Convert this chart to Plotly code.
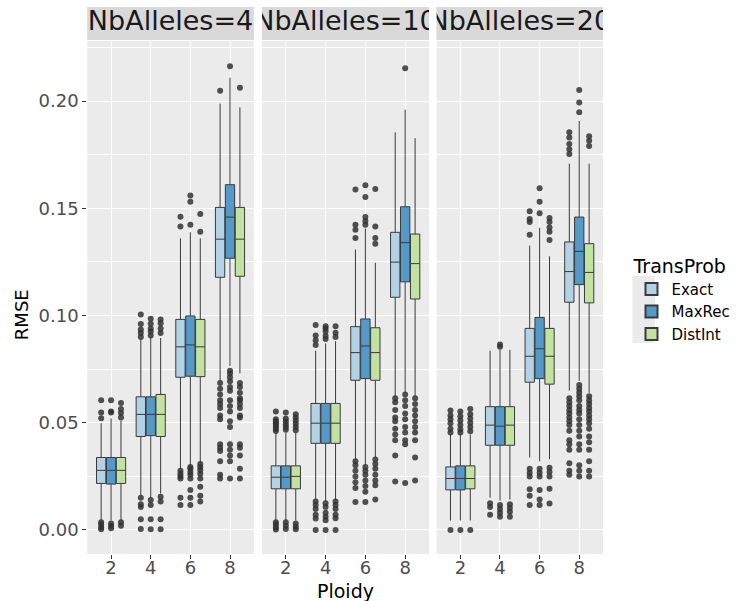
import plotly.graph_objects as go

# ---------------- data ----------------
PLOIDY = ["2", "4", "6", "8"]
NB_ALLELES = ["NbAlleles=4", "NbAlleles=10", "NbAlleles=20"]
SERIES = ["Exact", "MaxRec", "DistInt"]

# box statistics per panel (NbAlleles 4, 10, 20), each list over ploidy 2,4,6,8
EXACT_LOW = [[0.0044, 0.0160, 0.0285, 0.0694], [0.0044, 0.0142, 0.0329, 0.0623], [0.0044, 0.0151, 0.0338, 0.0650]]
EXACT_Q1 = [[0.0217, 0.0436, 0.0712, 0.1178], [0.0192, 0.0404, 0.0698, 0.1085], [0.0187, 0.0395, 0.0689, 0.1062]]
EXACT_MED = [[0.0278, 0.0539, 0.0854, 0.1356], [0.0246, 0.0498, 0.0827, 0.1249], [0.0240, 0.0489, 0.0810, 0.1205]]
EXACT_Q3 = [[0.0338, 0.0621, 0.0982, 0.1504], [0.0299, 0.0590, 0.0948, 0.1388], [0.0294, 0.0575, 0.0940, 0.1343]]
EXACT_HIGH = [[0.0498, 0.0890, 0.1360, 0.1988], [0.0454, 0.0836, 0.1308, 0.1854], [0.0445, 0.0836, 0.1326, 0.1708]]

MAXREC_LOW = [[0.0044, 0.0150, 0.0300, 0.0765], [0.0044, 0.0133, 0.0302, 0.0640], [0.0044, 0.0137, 0.0320, 0.0694]]
MAXREC_Q1 = [[0.0214, 0.0440, 0.0717, 0.1267], [0.0192, 0.0404, 0.0706, 0.1157], [0.0187, 0.0395, 0.0706, 0.1144]]
MAXREC_MED = [[0.0278, 0.0539, 0.0863, 0.1459], [0.0246, 0.0498, 0.0858, 0.1340], [0.0240, 0.0484, 0.0845, 0.1299]]
MAXREC_Q3 = [[0.0338, 0.0621, 0.0998, 0.1610], [0.0299, 0.0590, 0.0984, 0.1507], [0.0299, 0.0575, 0.0991, 0.1459]]
MAXREC_HIGH = [[0.0520, 0.0900, 0.1388, 0.2109], [0.0454, 0.0870, 0.1406, 0.1960], [0.0445, 0.0840, 0.1409, 0.1907]]

DISTINT_LOW = [[0.0044, 0.0170, 0.0311, 0.0730], [0.0044, 0.0140, 0.0340, 0.0623], [0.0044, 0.0142, 0.0330, 0.0640]]
DISTINT_Q1 = [[0.0217, 0.0436, 0.0715, 0.1183], [0.0192, 0.0404, 0.0698, 0.1077], [0.0192, 0.0395, 0.0680, 0.1059]]
DISTINT_MED = [[0.0278, 0.0539, 0.0854, 0.1356], [0.0250, 0.0498, 0.0827, 0.1242], [0.0240, 0.0489, 0.0810, 0.1201]]
DISTINT_Q3 = [[0.0338, 0.0632, 0.0982, 0.1504], [0.0299, 0.0590, 0.0943, 0.1380], [0.0299, 0.0575, 0.0940, 0.1335]]
DISTINT_HIGH = [[0.0510, 0.0895, 0.1360, 0.1970], [0.0454, 0.0880, 0.1246, 0.1827], [0.0445, 0.0840, 0.1276, 0.1708]]

# outliers per panel, per ploidy
EXACT_OUT = [
    [[0.0521, 0.0548, 0.0605, 0.0036, 0.0025, 0.0012, 0.0003],
     [0.0900, 0.0918, 0.0935, 0.0960, 0.1005, 0.0150, 0.0120, 0.0107, 0.0050, 0.0005],
     [0.1415, 0.1460, 0.0276, 0.0262, 0.0250, 0.0240, 0.0150, 0.0116],
     [0.2048, 0.0685, 0.0658, 0.0632, 0.0605, 0.0587, 0.0569, 0.0534, 0.0516, 0.0400, 0.0383, 0.0368, 0.0320, 0.0258, 0.0240]],
    [[0.0552, 0.0516, 0.0507, 0.0498, 0.0489, 0.0480, 0.0471, 0.0462, 0.0036, 0.0025, 0.0012, 0.0002],
     [0.0863, 0.0885, 0.0907, 0.0956, 0.0133, 0.0116, 0.0098, 0.0071, 0.0053, 0.0000],
     [0.1587, 0.1423, 0.1400, 0.1361, 0.0320, 0.0302, 0.0276, 0.0249, 0.0222, 0.0196, 0.0130],
     [0.0614, 0.0596, 0.0560, 0.0525, 0.0507, 0.0472, 0.0445, 0.0418, 0.0347, 0.0226]],
    [[0.0557, 0.0534, 0.0516, 0.0498, 0.0472, 0.0454, 0.0000],
     [0.0125, 0.0107, 0.0071],
     [0.1486, 0.1450, 0.1436, 0.1377, 0.0285, 0.0267, 0.0249, 0.0190, 0.0160, 0.0116],
     [0.1854, 0.1830, 0.1800, 0.1775, 0.1753, 0.0614, 0.0596, 0.0578, 0.0560, 0.0543, 0.0525, 0.0507, 0.0489,
      0.0463, 0.0418, 0.0400, 0.0374, 0.0311, 0.0276, 0.0258]],
]
MAXREC_OUT = [
    [[0.0548, 0.0552, 0.0605, 0.0030, 0.0018, 0.0008],
     [0.0907, 0.0925, 0.0940, 0.0962, 0.0985, 0.0140, 0.0116, 0.0050, 0.0003],
     [0.1423, 0.1530, 0.1560, 0.0294, 0.0285, 0.0270, 0.0258, 0.0240, 0.0187, 0.0150, 0.0116],
     [0.2162, 0.0742, 0.0730, 0.0712, 0.0694, 0.0667, 0.0649, 0.0605, 0.0578, 0.0552, 0.0507, 0.0480, 0.0400,
      0.0374, 0.0347, 0.0320, 0.0240]],
    [[0.0548, 0.0520, 0.0507, 0.0493, 0.0480, 0.0467, 0.0036, 0.0020, 0.0005],
     [0.0890, 0.0905, 0.0925, 0.0940, 0.0950, 0.0125, 0.0107, 0.0080, 0.0062, 0.0045, 0.0000],
     [0.1607, 0.1553, 0.1459, 0.1441, 0.1423, 0.0294, 0.0276, 0.0258, 0.0231, 0.0205, 0.0178, 0.0130],
     [0.2153, 0.0632, 0.0605, 0.0578, 0.0543, 0.0516, 0.0480, 0.0454, 0.0418, 0.0400, 0.0219]],
    [[0.0552, 0.0530, 0.0510, 0.0490, 0.0470, 0.0454, 0.0000],
     [0.0854, 0.0865, 0.0116, 0.0098, 0.0080, 0.0062],
     [0.1593, 0.1530, 0.1477, 0.0285, 0.0267, 0.0249, 0.0187, 0.0142, 0.0116],
     [0.2052, 0.1993, 0.1948, 0.0676, 0.0658, 0.0641, 0.0623, 0.0605, 0.0578, 0.0560, 0.0543, 0.0516, 0.0489,
      0.0463, 0.0436, 0.0400, 0.0374, 0.0302, 0.0276, 0.0249]],
]
DISTINT_OUT = [
    [[0.0525, 0.0546, 0.0564, 0.0592, 0.0036, 0.0020],
     [0.0918, 0.0940, 0.0964, 0.0982, 0.0155, 0.0133, 0.0050, 0.0003],
     [0.1390, 0.1473, 0.0308, 0.0294, 0.0280, 0.0262, 0.0240, 0.0202, 0.0160, 0.0133],
     [0.2062, 0.0685, 0.0667, 0.0640, 0.0614, 0.0605, 0.0587, 0.0569, 0.0534, 0.0525, 0.0400, 0.0383, 0.0347,
      0.0285, 0.0240]],
    [[0.0540, 0.0525, 0.0510, 0.0495, 0.0480, 0.0465, 0.0030, 0.0015, 0.0003],
     [0.0900, 0.0920, 0.0950, 0.0133, 0.0116, 0.0098, 0.0071, 0.0055, 0.0000],
     [0.1590, 0.1415, 0.1361, 0.1335, 0.0329, 0.0308, 0.0285, 0.0258, 0.0231, 0.0208, 0.0142],
     [0.0614, 0.0587, 0.0560, 0.0534, 0.0507, 0.0480, 0.0454, 0.0418, 0.0338, 0.0231]],
    [[0.0564, 0.0540, 0.0520, 0.0500, 0.0480, 0.0460, 0.0000],
     [0.0120, 0.0102, 0.0085, 0.0062],
     [0.1455, 0.1436, 0.1410, 0.1390, 0.1352, 0.0290, 0.0270, 0.0249, 0.0192, 0.0124],
     [0.1836, 0.1815, 0.1790, 0.0623, 0.0605, 0.0587, 0.0569, 0.0552, 0.0534, 0.0516, 0.0498, 0.0472, 0.0436,
      0.0409, 0.0374, 0.0320, 0.0276, 0.0249]],
]

COLORS = {"Exact": "#b3d3e4", "MaxRec": "#5499c7", "DistInt": "#c2e2a1"}

STATS = {
    "Exact": (EXACT_LOW, EXACT_Q1, EXACT_MED, EXACT_Q3, EXACT_HIGH, EXACT_OUT),
    "MaxRec": (MAXREC_LOW, MAXREC_Q1, MAXREC_MED, MAXREC_Q3, MAXREC_HIGH, MAXREC_OUT),
    "DistInt": (DISTINT_LOW, DISTINT_Q1, DISTINT_MED, DISTINT_Q3, DISTINT_HIGH, DISTINT_OUT),
}

# ---------------- layout geometry ----------------
W, H = 743, 601
ML, MR, MT, MB = 87, 131, 7, 47
PW = W - ML - MR
PH = H - MT - MB
panel_px = [(87.3, 256.7), (265.0, 435.0), (442.7, 612.0)]


def clamp(v):
    return max(0.0, min(1.0, v))


def px_x(px):
    return (px - ML) / PW


def px_y(px):
    return (H - MB - px) / PH


x_domains = [[clamp(px_x(a)), clamp(px_x(b))] for a, b in panel_px]
panel_dom = [0, px_y(41)]
strip_dom = [px_y(40), 1.0]

DODGE = [-0.25, 0.0, 0.25]
BOXW = 0.235
FONT = "DejaVu Sans"

fig = go.Figure()

pos = [i + 1 for i in range(len(PLOIDY))]

for p in range(3):
    xa = "x" if p == 0 else f"x{p + 1}"
    ya = "y" if p == 0 else f"y{p + 1}"
    for s_i, s in enumerate(SERIES):
        low, q1, med, q3, high, out = STATS[s]
        xs = [v + DODGE[s_i] for v in pos]
        fig.add_trace(go.Box(
            x=xs, q1=q1[p], median=med[p], q3=q3[p],
            lowerfence=low[p], upperfence=high[p],
            width=BOXW, fillcolor=COLORS[s],
            line=dict(color="#3a3a3a", width=1),
            whiskerwidth=0, boxpoints=False,
            name=s, legendgroup=s, showlegend=(p == 0),
            xaxis=xa, yaxis=ya, hoverinfo="skip",
        ))
        ox, oy = [], []
        for k in range(len(PLOIDY)):
            for v in out[p][k]:
                ox.append(xs[k])
                oy.append(v)
        fig.add_trace(go.Scatter(
            x=ox, y=oy, mode="markers",
            marker=dict(size=6, color="#333333", opacity=0.85, line=dict(width=0)),
            showlegend=False, xaxis=xa, yaxis=ya, hoverinfo="skip",
        ))

# strip labels (clipped to the strip area like ggplot)
for p in range(3):
    xa = f"x{p + 4}"
    ya = f"y{p + 4}"
    fig.add_trace(go.Scatter(
        x=[0.5], y=[0.5], mode="text", text=[NB_ALLELES[p]],
        textfont=dict(family=FONT, size=27, color="#1a1a1a"),
        textposition="middle center", cliponaxis=True,
        showlegend=False, xaxis=xa, yaxis=ya, hoverinfo="skip",
    ))

layout = dict(
    width=W, height=H,
    margin=dict(l=ML, r=MR, t=MT, b=MB),
    paper_bgcolor="white", plot_bgcolor="#ebebeb",
    font=dict(family=FONT, color="#4d4d4d"),
    showlegend=True,
    legend=dict(
        title=dict(text="TransProb", font=dict(size=19, color="#000000", family=FONT), side="top"),
        font=dict(size=15, color="#000000", family=FONT),
        x=px_x(641), xanchor="left", y=px_y(248), yanchor="top",
        bgcolor="rgba(0,0,0,0)", traceorder="normal",
        itemsizing="constant",
    ),
    shapes=[], annotations=[],
)

for p in range(3):
    sfx = "" if p == 0 else str(p + 1)
    layout["xaxis" + sfx] = dict(
        domain=x_domains[p], range=[0.4, 4.6], anchor="y" + sfx,
        tickvals=pos, ticktext=PLOIDY, showgrid=True, gridcolor="white", gridwidth=1.1,
        zeroline=False, ticks="outside", ticklen=4, tickcolor="#333333", tickwidth=1,
        ticklabelstandoff=-7,
        tickfont=dict(size=18, color="#4d4d4d", family=FONT), showline=False,
    )
    layout["yaxis" + sfx] = dict(
        domain=panel_dom, range=[-0.0112, 0.228], anchor="x" + sfx,
        dtick=0.05, tick0=0, tickformat=".2f",
        showgrid=True, gridcolor="white", gridwidth=1.1, zeroline=False,
        minor=dict(dtick=0.025, tick0=0, showgrid=True, gridcolor="white", gridwidth=0.5, ticks=""),
        ticks="outside" if p == 0 else "", ticklen=4, tickcolor="#333333", tickwidth=1,
        showticklabels=(p == 0),
        tickfont=dict(size=18, color="#4d4d4d", family=FONT),
    )
    s4 = str(p + 4)
    layout["xaxis" + s4] = dict(domain=x_domains[p], range=[0, 1], anchor="y" + s4,
                                visible=False, fixedrange=True)
    layout["yaxis" + s4] = dict(domain=strip_dom, range=[0, 1], anchor="x" + s4,
                                visible=False, fixedrange=True)
    layout["shapes"].append(dict(
        type="rect", xref=f"x{s4} domain", yref=f"y{s4} domain",
        x0=0, x1=1, y0=0, y1=1, fillcolor="#d9d9d9", line=dict(width=0), layer="below",
    ))

# grey legend key background (as in ggplot)
layout["shapes"].append(dict(
    type="rect", xref="paper", yref="paper",
    x0=px_x(642), x1=px_x(665), y0=px_y(276), y1=px_y(343),
    fillcolor="#ebebeb", line=dict(width=0), layer="above",
))

layout["annotations"] = [
    dict(text="Ploidy", x=px_x(350), y=px_y(591), xref="paper", yref="paper",
         showarrow=False, xanchor="center", yanchor="middle",
         font=dict(size=19, color="#000000", family=FONT)),
    dict(text="RMSE", x=px_x(20), y=px_y(315), xref="paper", yref="paper",
         showarrow=False, xanchor="center", yanchor="middle", textangle=-90,
         font=dict(size=18, color="#000000", family=FONT)),
]

fig.update_layout(**layout)
fig.write_html("out.html")
